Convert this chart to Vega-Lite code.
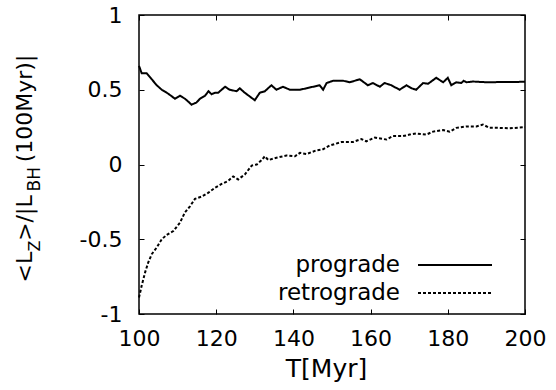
{
  "$schema": "https://vega.github.io/schema/vega-lite/v6.json",
  "width": 386,
  "height": 299,
  "autosize": {"type": "none"},
  "padding": {"left": 139, "top": 15, "right": 31, "bottom": 76},
  "background": "white",
  "config": {
    "view": {"stroke": "black", "strokeWidth": 1.5},
    "font": "DejaVu Sans",
    "axis": {
      "grid": false,
      "domain": false,
      "tickColor": "black",
      "tickWidth": 1,
      "tickSize": -5,
      "labelFlush": false,
      "labelFont": "DejaVu Sans",
      "labelFontSize": 22,
      "labelColor": "black",
      "titleFont": "DejaVu Sans",
      "titleFontWeight": "normal",
      "titleColor": "black"
    },
    "legend": {
      "title": null,
      "orient": "none",
      "symbolType": "stroke",
      "symbolSize": 5476,
      "symbolStrokeWidth": 2,
      "symbolStrokeColor": "black",
      "symbolOpacity": 1,
      "labelFont": "DejaVu Sans",
      "labelFontSize": 23,
      "labelColor": "black",
      "labelAlign": "right",
      "labelOffset": -93,
      "padding": 0
    }
  },
  "data": {
    "values": [
      {"T": 100, "v": 0.66, "series": "prograde"},
      {"T": 100.7, "v": 0.61, "series": "prograde"},
      {"T": 102, "v": 0.61, "series": "prograde"},
      {"T": 103.3, "v": 0.57, "series": "prograde"},
      {"T": 104.6, "v": 0.53, "series": "prograde"},
      {"T": 105.9, "v": 0.5, "series": "prograde"},
      {"T": 107.2, "v": 0.48, "series": "prograde"},
      {"T": 108.3, "v": 0.46, "series": "prograde"},
      {"T": 109.3, "v": 0.44, "series": "prograde"},
      {"T": 110.6, "v": 0.46, "series": "prograde"},
      {"T": 111.9, "v": 0.44, "series": "prograde"},
      {"T": 112.8, "v": 0.42, "series": "prograde"},
      {"T": 113.6, "v": 0.4, "series": "prograde"},
      {"T": 114.9, "v": 0.415, "series": "prograde"},
      {"T": 115.8, "v": 0.44, "series": "prograde"},
      {"T": 117.1, "v": 0.46, "series": "prograde"},
      {"T": 118, "v": 0.49, "series": "prograde"},
      {"T": 118.8, "v": 0.47, "series": "prograde"},
      {"T": 119.7, "v": 0.48, "series": "prograde"},
      {"T": 120.5, "v": 0.48, "series": "prograde"},
      {"T": 122.3, "v": 0.52, "series": "prograde"},
      {"T": 123.5, "v": 0.5, "series": "prograde"},
      {"T": 125.3, "v": 0.49, "series": "prograde"},
      {"T": 126.1, "v": 0.51, "series": "prograde"},
      {"T": 127.4, "v": 0.48, "series": "prograde"},
      {"T": 128.7, "v": 0.455, "series": "prograde"},
      {"T": 130, "v": 0.43, "series": "prograde"},
      {"T": 131.3, "v": 0.48, "series": "prograde"},
      {"T": 132.6, "v": 0.49, "series": "prograde"},
      {"T": 134.3, "v": 0.53, "series": "prograde"},
      {"T": 135.6, "v": 0.5, "series": "prograde"},
      {"T": 137.3, "v": 0.52, "series": "prograde"},
      {"T": 139.1, "v": 0.5, "series": "prograde"},
      {"T": 141.7, "v": 0.5, "series": "prograde"},
      {"T": 143.4, "v": 0.51, "series": "prograde"},
      {"T": 145.1, "v": 0.52, "series": "prograde"},
      {"T": 146.8, "v": 0.53, "series": "prograde"},
      {"T": 147.7, "v": 0.5, "series": "prograde"},
      {"T": 148.6, "v": 0.545, "series": "prograde"},
      {"T": 150.3, "v": 0.56, "series": "prograde"},
      {"T": 152.9, "v": 0.56, "series": "prograde"},
      {"T": 154.6, "v": 0.55, "series": "prograde"},
      {"T": 157.2, "v": 0.57, "series": "prograde"},
      {"T": 159.3, "v": 0.53, "series": "prograde"},
      {"T": 160.6, "v": 0.545, "series": "prograde"},
      {"T": 162.4, "v": 0.52, "series": "prograde"},
      {"T": 163.6, "v": 0.545, "series": "prograde"},
      {"T": 165.4, "v": 0.53, "series": "prograde"},
      {"T": 167.5, "v": 0.5, "series": "prograde"},
      {"T": 169.3, "v": 0.53, "series": "prograde"},
      {"T": 170.6, "v": 0.51, "series": "prograde"},
      {"T": 171.8, "v": 0.5, "series": "prograde"},
      {"T": 173.6, "v": 0.545, "series": "prograde"},
      {"T": 174.9, "v": 0.54, "series": "prograde"},
      {"T": 177, "v": 0.58, "series": "prograde"},
      {"T": 178.8, "v": 0.55, "series": "prograde"},
      {"T": 180, "v": 0.58, "series": "prograde"},
      {"T": 180.9, "v": 0.53, "series": "prograde"},
      {"T": 182.2, "v": 0.55, "series": "prograde"},
      {"T": 183.5, "v": 0.545, "series": "prograde"},
      {"T": 184.1, "v": 0.56, "series": "prograde"},
      {"T": 184.8, "v": 0.55, "series": "prograde"},
      {"T": 186.5, "v": 0.555, "series": "prograde"},
      {"T": 190, "v": 0.55, "series": "prograde"},
      {"T": 195, "v": 0.552, "series": "prograde"},
      {"T": 200, "v": 0.553, "series": "prograde"},
      {"T": 100, "v": -0.89, "series": "retrograde"},
      {"T": 100.7, "v": -0.81, "series": "retrograde"},
      {"T": 101.6, "v": -0.72, "series": "retrograde"},
      {"T": 102.4, "v": -0.655, "series": "retrograde"},
      {"T": 103.3, "v": -0.6, "series": "retrograde"},
      {"T": 104.6, "v": -0.555, "series": "retrograde"},
      {"T": 105.9, "v": -0.5, "series": "retrograde"},
      {"T": 107.2, "v": -0.47, "series": "retrograde"},
      {"T": 108.9, "v": -0.445, "series": "retrograde"},
      {"T": 110.6, "v": -0.39, "series": "retrograde"},
      {"T": 111.9, "v": -0.32, "series": "retrograde"},
      {"T": 113.2, "v": -0.28, "series": "retrograde"},
      {"T": 114.5, "v": -0.23, "series": "retrograde"},
      {"T": 116.2, "v": -0.215, "series": "retrograde"},
      {"T": 117.9, "v": -0.19, "series": "retrograde"},
      {"T": 119.7, "v": -0.155, "series": "retrograde"},
      {"T": 121.4, "v": -0.13, "series": "retrograde"},
      {"T": 123.1, "v": -0.11, "series": "retrograde"},
      {"T": 124.4, "v": -0.08, "series": "retrograde"},
      {"T": 125.7, "v": -0.1, "series": "retrograde"},
      {"T": 127.4, "v": -0.067, "series": "retrograde"},
      {"T": 129.2, "v": -0.007, "series": "retrograde"},
      {"T": 130.5, "v": 0.0, "series": "retrograde"},
      {"T": 131.8, "v": 0.03, "series": "retrograde"},
      {"T": 132.6, "v": 0.055, "series": "retrograde"},
      {"T": 133.5, "v": 0.03, "series": "retrograde"},
      {"T": 135.6, "v": 0.045, "series": "retrograde"},
      {"T": 138.2, "v": 0.06, "series": "retrograde"},
      {"T": 140.4, "v": 0.055, "series": "retrograde"},
      {"T": 141.7, "v": 0.078, "series": "retrograde"},
      {"T": 143.4, "v": 0.07, "series": "retrograde"},
      {"T": 146, "v": 0.095, "series": "retrograde"},
      {"T": 147.5, "v": 0.1, "series": "retrograde"},
      {"T": 149.4, "v": 0.127, "series": "retrograde"},
      {"T": 152.4, "v": 0.15, "series": "retrograde"},
      {"T": 155.4, "v": 0.15, "series": "retrograde"},
      {"T": 157.6, "v": 0.17, "series": "retrograde"},
      {"T": 158.9, "v": 0.155, "series": "retrograde"},
      {"T": 161.1, "v": 0.18, "series": "retrograde"},
      {"T": 164.1, "v": 0.167, "series": "retrograde"},
      {"T": 165.8, "v": 0.19, "series": "retrograde"},
      {"T": 168.4, "v": 0.19, "series": "retrograde"},
      {"T": 170.1, "v": 0.2, "series": "retrograde"},
      {"T": 171.8, "v": 0.207, "series": "retrograde"},
      {"T": 174.4, "v": 0.2, "series": "retrograde"},
      {"T": 176.2, "v": 0.22, "series": "retrograde"},
      {"T": 178.8, "v": 0.23, "series": "retrograde"},
      {"T": 180.5, "v": 0.22, "series": "retrograde"},
      {"T": 182.2, "v": 0.245, "series": "retrograde"},
      {"T": 184.8, "v": 0.255, "series": "retrograde"},
      {"T": 187.4, "v": 0.255, "series": "retrograde"},
      {"T": 189.1, "v": 0.267, "series": "retrograde"},
      {"T": 190.8, "v": 0.245, "series": "retrograde"},
      {"T": 193.4, "v": 0.245, "series": "retrograde"},
      {"T": 196, "v": 0.242, "series": "retrograde"},
      {"T": 200, "v": 0.25, "series": "retrograde"}
    ]
  },
  "layer": [
    {
      "transform": [{"filter": "datum.series == 'prograde'"}],
      "mark": {"type": "line", "color": "black", "strokeWidth": 2, "strokeCap": "butt"},
      "encoding": {
        "x": {
          "field": "T", "type": "quantitative",
          "scale": {"domain": [100, 200], "nice": false, "zero": false},
          "axis": {
            "orient": "bottom",
            "values": [100, 120, 140, 160, 180, 200],
            "labelPadding": 19,
            "title": "T[Myr]",
            "titleFontSize": 25,
            "titleX": 187,
            "titleY": 62,
            "titleAlign": "center",
            "titleBaseline": "alphabetic"
          }
        },
        "y": {
          "field": "v", "type": "quantitative",
          "scale": {"domain": [-1, 1], "nice": false, "zero": false},
          "axis": {
            "orient": "left",
            "values": [-1, -0.5, 0, 0.5, 1],
            "labelExpr": "'' + datum.value",
            "labelPadding": 22,
            "title": "<L\u2002>/|L\u2002\u2002\u2002(100Myr)|",
            "titleFontSize": 22,
            "titleAngle": -90,
            "titleX": -108,
            "titleY": 267,
            "titleAlign": "left",
            "titleBaseline": "alphabetic"
          }
        },
        "strokeDash": {
          "field": "series", "type": "nominal",
          "scale": {"domain": ["prograde"], "range": [[1, 0]]},
          "legend": {"legendX": 278, "legendY": 212}
        }
      }
    },
    {
      "transform": [{"filter": "datum.series == 'retrograde'"}],
      "mark": {"type": "line", "color": "black", "strokeWidth": 2, "strokeCap": "butt"},
      "encoding": {
        "x": {
          "field": "T", "type": "quantitative",
          "scale": {"domain": [100, 200], "nice": false, "zero": false},
          "axis": {"orient": "top", "values": [100, 120, 140, 160, 180, 200], "labels": false, "title": null}
        },
        "y": {
          "field": "v", "type": "quantitative",
          "scale": {"domain": [-1, 1], "nice": false, "zero": false},
          "axis": {
            "orient": "right",
            "values": [-1, -0.5, 0, 0.5, 1],
            "labels": false,
            "title": "Z",
            "titleFontSize": 16,
            "titleAngle": -90,
            "titleX": -486,
            "titleY": 236,
            "titleAlign": "left",
            "titleBaseline": "alphabetic"
          }
        },
        "strokeDash": {
          "field": "series", "type": "nominal",
          "scale": {"domain": ["retrograde"], "range": [[3, 2]]},
          "legend": {"legendX": 278, "legendY": 240}
        }
      }
    },
    {
      "mark": {"type": "point", "opacity": 0},
      "encoding": {
        "x": {
          "field": "T", "type": "quantitative",
          "scale": {"domain": [100, 200], "nice": false, "zero": false},
          "axis": null
        },
        "y": {
          "field": "v", "type": "quantitative",
          "scale": {"domain": [-1, 1], "nice": false, "zero": false},
          "axis": {
            "orient": "left",
            "labels": false,
            "ticks": false,
            "title": "BH",
            "titleFontSize": 17,
            "titleAngle": -90,
            "titleX": -100,
            "titleY": 176,
            "titleAlign": "left",
            "titleBaseline": "alphabetic"
          }
        }
      }
    }
  ],
  "resolve": {
    "axis": {"x": "independent", "y": "independent"},
    "scale": {"strokeDash": "independent"},
    "legend": {"strokeDash": "independent"}
  }
}
